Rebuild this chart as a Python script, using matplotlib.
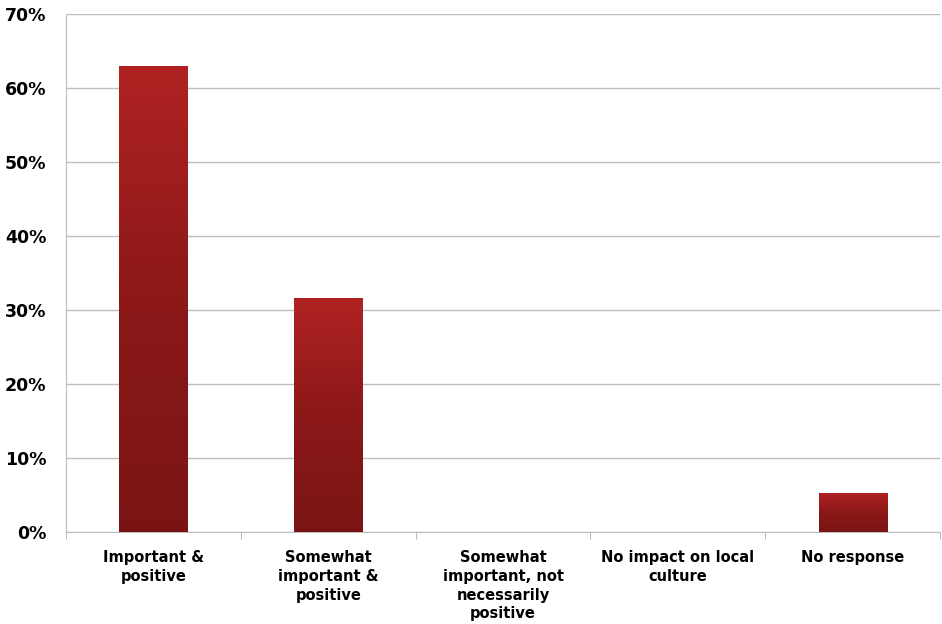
import numpy as np
import matplotlib
matplotlib.use("Agg")
import matplotlib.pyplot as plt
from matplotlib.colors import LinearSegmentedColormap
from matplotlib.ticker import FixedLocator, NullFormatter

categories = ["Important &\npositive", "Somewhat\nimportant &\npositive",
              "Somewhat\nimportant, not\nnecessarily\npositive",
              "No impact on local\nculture", "No response"]
values = [63.0, 31.6, 0.0, 0.0, 5.3]

plt.rcParams['font.family'] = ['DejaVu Sans']
plt.rcParams['font.weight'] = 'bold'

fig = plt.figure(figsize=(9.42, 6.24), dpi=100)
ax = fig.add_axes([0.070, 0.147, 0.928, 0.830])

x = np.arange(len(categories))
bars = ax.bar(x, values, width=0.39, color='#9a1c1c', zorder=3)

# vertical gradient: darker at the bottom, brighter red at the top
cmap = LinearSegmentedColormap.from_list("redgrad", ["#7a1414", "#8c1818", "#b02222"])
grad = np.linspace(0, 1, 256).reshape(-1, 1)
for b in bars:
    if b.get_height() <= 0:
        continue
    x0, y0 = b.get_x(), b.get_y()
    im = ax.imshow(grad, cmap=cmap, aspect='auto', origin='lower',
                   extent=[x0, x0 + b.get_width(), y0, y0 + b.get_height()], zorder=4)
    im.set_clip_path(b)

ax.set_xlim(-0.5, len(categories) - 0.5)
ax.set_ylim(0, 70)
ax.set_yticks(np.arange(0, 71, 10))
ax.set_yticklabels([f"{v}%" for v in range(0, 71, 10)], fontsize=12.5, fontweight='heavy')
ax.yaxis.grid(True, color='#bdbdbd', linewidth=1.0, zorder=0)
ax.tick_params(axis='y', length=0, pad=14)

ax.xaxis.set_major_locator(FixedLocator(np.arange(-0.5, len(categories), 1.0)))
ax.xaxis.set_major_formatter(NullFormatter())
ax.xaxis.set_minor_locator(FixedLocator(x))
ax.set_xticklabels(categories, minor=True, fontsize=10.5, fontweight='heavy', linespacing=1.3)
ax.tick_params(axis='x', which='major', length=5, color='#bdbdbd', direction='out')
ax.tick_params(axis='x', which='minor', length=0, pad=13)

for s in ['top', 'right']:
    ax.spines[s].set_visible(False)
ax.spines['left'].set_color('#bdbdbd')
ax.spines['bottom'].set_color('#bdbdbd')

fig.savefig("out.png", dpi=100)
